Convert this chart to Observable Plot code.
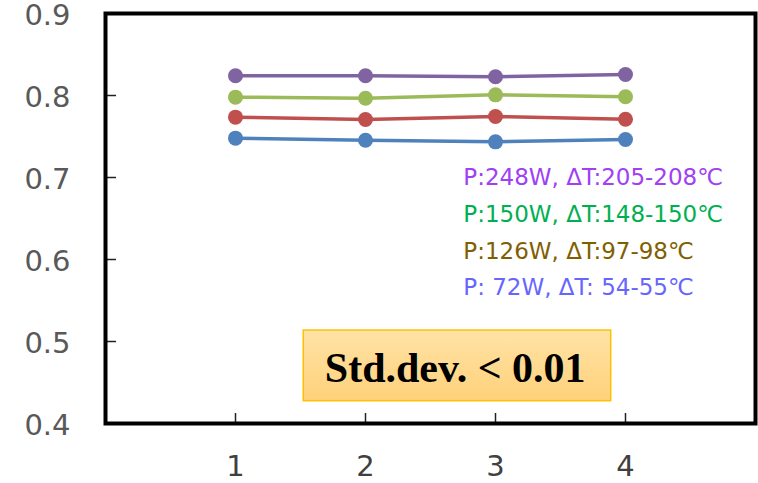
<!DOCTYPE html>
<html>
<head>
<meta charset="utf-8">
<script src="https://cdn.jsdelivr.net/npm/d3@7"></script>
<script src="https://cdn.jsdelivr.net/npm/@observablehq/plot@0.6"></script>
<style>
  html, body { margin: 0; padding: 0; background: #fff; }
  #chart svg { display: block; }
</style>
</head>
<body>
<div id="chart"></div>
<script>
// ---- data ----
const runs = [1, 2, 3, 4];
const p248 = [0.824, 0.824, 0.8228, 0.8256];
const p150 = [0.798, 0.7967, 0.8008, 0.7984];
const p126 = [0.7736, 0.7707, 0.7744, 0.7711];
const p72  = [0.748, 0.7455, 0.7435, 0.7463];
const seriesNames = ["P248", "P150", "P126", "P72"];
const seriesColors = ["#8064A2", "#9BBB59", "#C0504D", "#4F81BD"];
const yTicks = [0.4, 0.5, 0.6, 0.7, 0.8, 0.9];
const xTicks = [1, 2, 3, 4];
const legendLabels = [
  "P:248W, ΔT:205-208℃",
  "P:150W, ΔT:148-150℃",
  "P:126W, ΔT:97-98℃",
  "P: 72W, ΔT: 54-55℃"
];
const legendColors = ["#A040F5", "#00B050", "#7F6000", "#6666FF"];
const legendY = [0.6911, 0.6455, 0.6009, 0.5561];
const boxLabel = "Std.dev. < 0.01";

// ---- build tables ----
const allSeries = [p248, p150, p126, p72];
const rows = [];
allSeries.forEach((vals, i) => {
  vals.forEach((v, j) => rows.push({series: seriesNames[i], run: runs[j], value: v}));
});
const legendRows = legendLabels.map((t, i) => ({text: t, color: legendColors[i], y: legendY[i]}));

const colorScale = {domain: seriesNames, range: seriesColors};

const chart = Plot.plot({
  width: 758,
  height: 483,
  marginLeft: 105,
  marginRight: 3,
  marginTop: 13,
  marginBottom: 60,
  style: {fontFamily: "DejaVu Sans", background: "#fff"},
  x: {domain: [0, 5], label: null},
  y: {domain: [0.4, 0.9], label: null},
  color: colorScale,
  marks: [
    Plot.rect([0], {x1: 1.525, x2: 3.89, y1: 0.4272, y2: 0.5134,
      fill: "url(#boxGrad)", stroke: "#FFC000", strokeWidth: 1.5}),
    Plot.text([boxLabel], {x: 2.69, y: 0.4504, text: d => d, lineAnchor: "bottom",
      fontFamily: "Liberation Serif", fontWeight: "bold", fontSize: 42, fill: "#000"}),
    // inward tick marks
    Plot.ruleY(yTicks.slice(1, -1), {x1: 0, x2: 0.085, stroke: "#222", strokeWidth: 1.5}),
    Plot.ruleX(xTicks, {y1: 0.4, y2: 0.4122, stroke: "#222", strokeWidth: 1.5}),
    Plot.axisY(yTicks, {tickSize: 0, tickPadding: 35, fontSize: 29, fill: "#595959",
      dy: 2, label: null, tickFormat: d => d.toFixed(1)}),
    Plot.axisX(xTicks, {tickSize: 0, tickPadding: 32, fontSize: 29, fill: "#404040",
      label: null, tickFormat: d => String(d)}),
    Plot.line(rows, {x: "run", y: "value", z: "series", stroke: "series", strokeWidth: 3.5}),
    Plot.dot(rows, {x: "run", y: "value", fill: "series", r: 7.5}),
    Plot.text(legendRows, {x: 2.752, y: "y", text: "text", fill: "color",
      textAnchor: "start", lineAnchor: "bottom", fontSize: 23}),
    Plot.frame({stroke: "#000", strokeWidth: 4})
  ]
});

// gradient definition for the annotation box
const svgNS = "http://www.w3.org/2000/svg";
const defs = document.createElementNS(svgNS, "defs");
const grad = document.createElementNS(svgNS, "linearGradient");
grad.setAttribute("id", "boxGrad");
grad.setAttribute("x1", "0"); grad.setAttribute("y1", "0");
grad.setAttribute("x2", "0"); grad.setAttribute("y2", "1");
[["0%", "#FFE3A6"], ["100%", "#FFD17A"]].forEach(([o, c]) => {
  const s = document.createElementNS(svgNS, "stop");
  s.setAttribute("offset", o);
  s.setAttribute("stop-color", c);
  grad.appendChild(s);
});
defs.appendChild(grad);
chart.insertBefore(defs, chart.firstChild);

document.getElementById("chart").appendChild(chart);
</script>
</body>
</html>
